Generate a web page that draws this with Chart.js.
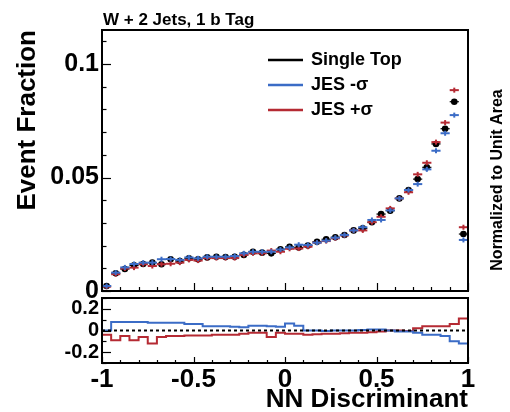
<!DOCTYPE html>
<html><head><meta charset="utf-8">
<script src="https://cdn.jsdelivr.net/npm/chart.js@4.4.1/dist/chart.umd.min.js"></script>
<style>
html,body{margin:0;padding:0;background:#fff;width:510px;height:412px;overflow:hidden}
#wrap{position:relative;width:510px;height:412px}
canvas{position:absolute;left:0;top:0}
</style></head><body>
<div id="wrap"><canvas id="main" width="510" height="412"></canvas><canvas id="ratio" width="510" height="412"></canvas></div>
<script>
// ---------------- data ----------------
const binWidth = 0.05;
const binCenters = [-0.975,-0.925,-0.875,-0.825,-0.775,-0.725,-0.675,-0.625,-0.575,-0.525,-0.475,-0.425,-0.375,-0.325,-0.275,-0.225,-0.175,-0.125,-0.075,-0.025,0.025,0.075,0.125,0.175,0.225,0.275,0.325,0.375,0.425,0.475,0.525,0.575,0.625,0.675,0.725,0.775,0.825,0.875,0.925,0.975];
const singleTop = [0.0022,0.0078,0.0097,0.0113,0.0119,0.0125,0.0118,0.0140,0.0132,0.0144,0.0140,0.0148,0.0151,0.0150,0.0151,0.0159,0.0173,0.0169,0.0166,0.0184,0.0195,0.0192,0.0200,0.0217,0.0228,0.0237,0.0247,0.0267,0.0276,0.0303,0.0339,0.0354,0.0408,0.0445,0.0493,0.0545,0.0648,0.0715,0.0834,0.0251];
const jesMinus = [0.0022,0.0081,0.0104,0.0119,0.0125,0.0125,0.0140,0.0141,0.0137,0.0148,0.0144,0.0151,0.0151,0.0151,0.0154,0.0166,0.0173,0.0173,0.0173,0.0183,0.0192,0.0204,0.0203,0.0213,0.0222,0.0235,0.0247,0.0267,0.0281,0.0313,0.0313,0.0355,0.0408,0.0445,0.0471,0.0536,0.0618,0.0695,0.0775,0.0225];
const jesPlus = [0.0019,0.0074,0.0099,0.0103,0.0118,0.0110,0.0118,0.0120,0.0125,0.0137,0.0134,0.0145,0.0145,0.0145,0.0145,0.0159,0.0166,0.0166,0.0178,0.0173,0.0186,0.0187,0.0195,0.0213,0.0220,0.0232,0.0245,0.0267,0.0267,0.0303,0.0327,0.0364,0.0408,0.0435,0.0514,0.0565,0.0656,0.0742,0.0885,0.0281];
const ratioMinus = [0.0,0.079,0.079,0.079,0.079,0.072,0.072,0.072,0.072,0.059,0.059,0.04,0.04,0.04,0.035,0.03,0.045,0.045,0.04,0.035,0.065,0.045,0.0,0.0,-0.005,0.0,0.0,0.0,0.005,0.01,0.01,0.0,-0.01,-0.01,-0.02,-0.04,-0.04,-0.05,-0.1,-0.12];
const ratioPlus = [-0.04,-0.09,-0.05,-0.09,-0.06,-0.12,-0.06,-0.05,-0.05,-0.045,-0.045,-0.045,-0.04,-0.04,-0.04,-0.03,-0.02,-0.02,-0.06,-0.02,-0.03,-0.03,-0.04,-0.035,-0.03,-0.03,-0.025,-0.02,-0.02,-0.015,-0.01,0.0,0.0,-0.005,0.02,0.04,0.04,0.04,0.06,0.11];
const mainYTicks = [0, 0.05, 0.1];
const mainYTickLabels = ['0', '0.05', '0.1'];
const ratioYTicks = [-0.2, 0, 0.2];
const ratioYTickLabels = ['-0.2', '0', '0.2'];
const xTicks = [-1, -0.5, 0, 0.5, 1];
const xTickLabels = ['-1', '-0.5', '0', '0.5', '1'];
const seriesNames = ['Single Top', 'JES -\u03C3', 'JES +\u03C3'];
const titleText = 'W + 2 Jets, 1 b Tag';
const yTitle = 'Event Fraction';
const rightTitle = 'Normalized to Unit Area';
const xTitle = 'NN Discriminant';

// ---------------- style ----------------
const FONT = "'Liberation Sans', Arial, Helvetica, sans-serif";
const BLACK = '#000000', BLUE = '#3b6cc6', RED = '#b52a33';
const W = 510, H = 412;
const MAIN = {left:102, right:468, top:30, bottom:291};
const RAT = {left:102, right:468, top:298, bottom:363};

function labelFor(vals, labels) {
  return function(v){ for (let i=0;i<vals.length;i++) if (Math.abs(vals[i]-v)<1e-9) return labels[i]; return ''; };
}

// horizontal bin-width bars, drawn right after each dataset
const hbarPlugin = {
  id:'hbar',
  afterDatasetDraw(chart, args) {
    const ds = chart.data.datasets[args.index];
    if (!ds.hbar) return;
    const ctx = chart.ctx, xs = chart.scales.x, ys = chart.scales.y;
    ctx.save();
    ctx.strokeStyle = ds.borderColor || BLACK;
    ctx.lineWidth = ds.hbarWidth;
    ds.data.forEach(p => {
      const y = ys.getPixelForValue(p.y);
      ctx.beginPath();
      ctx.moveTo(xs.getPixelForValue(p.x - binWidth/2), y);
      ctx.lineTo(xs.getPixelForValue(p.x + binWidth/2), y);
      ctx.stroke();
    });
    ctx.restore();
  }
};

function frameAndTicks(chart, cfg) {
  const ctx = chart.ctx, a = chart.chartArea, xs = chart.scales.x, ys = chart.scales.y;
  ctx.save();
  ctx.strokeStyle = BLACK;
  ctx.lineWidth = 1.2;
  for (let v = cfg.yMinorStart; v <= ys.max + 1e-9; v += cfg.yMinor) {
    const isMajor = Math.abs(v/cfg.yMajor - Math.round(v/cfg.yMajor)) < 1e-6;
    const y = Math.round(ys.getPixelForValue(v)) + 0.5;
    ctx.beginPath(); ctx.moveTo(a.left, y); ctx.lineTo(a.left + (isMajor?cfg.yMajLen:cfg.yMinLen), y); ctx.stroke();
  }
  for (let v = -1; v <= 1 + 1e-9; v += cfg.xMinor) {
    const isMajor = Math.abs(v/0.5 - Math.round(v/0.5)) < 1e-6;
    const x = Math.round(xs.getPixelForValue(v)) + 0.5;
    ctx.beginPath(); ctx.moveTo(x, a.bottom); ctx.lineTo(x, a.bottom - (isMajor?cfg.xMajLen:cfg.xMinLen)); ctx.stroke();
  }
  ctx.lineWidth = 2;
  ctx.strokeRect(a.left, a.top, a.right - a.left, a.bottom - a.top);
  ctx.restore();
}

const mainDecor = {
  id:'mainDecor',
  afterDraw(chart) {
    frameAndTicks(chart, {yMinorStart:0, yMinor:0.01, yMajor:0.05, yMajLen:9, yMinLen:4.5, xMinor:0.1, xMajLen:8, xMinLen:4});
    const ctx = chart.ctx;
    ctx.save();
    ctx.fillStyle = BLACK;
    ctx.font = "bold 17px " + FONT;
    ctx.textAlign = 'left'; ctx.textBaseline = 'alphabetic';
    ctx.fillText(titleText, 103, 25);
    const legColors = [BLACK, BLUE, RED];
    const legY = [60, 85, 110];
    ctx.font = "bold 18px " + FONT;
    ctx.textBaseline = 'middle';
    for (let i = 0; i < 3; i++) {
      ctx.strokeStyle = legColors[i]; ctx.lineWidth = 2.5;
      ctx.beginPath(); ctx.moveTo(268, legY[i]); ctx.lineTo(303, legY[i]); ctx.stroke();
      ctx.fillText(seriesNames[i], 311, legY[i]);
    }
    ctx.save();
    ctx.translate(35, 30); ctx.rotate(-Math.PI/2);
    ctx.font = "bold 26px " + FONT; ctx.textAlign = 'right'; ctx.textBaseline = 'alphabetic';
    ctx.fillText(yTitle, 0, 0);
    ctx.restore();
    ctx.save();
    ctx.translate(502, 180); ctx.rotate(-Math.PI/2);
    ctx.font = "bold 16px " + FONT; ctx.textAlign = 'center'; ctx.textBaseline = 'alphabetic';
    ctx.fillText(rightTitle, 0, 0);
    ctx.restore();
    ctx.restore();
  }
};

const ratioDecor = {
  id:'ratioDecor',
  afterDatasetsDraw(chart) {
    const ctx = chart.ctx, a = chart.chartArea, ys = chart.scales.y;
    const y0 = ys.getPixelForValue(0);
    ctx.save();
    ctx.strokeStyle = BLACK; ctx.lineWidth = 2; ctx.setLineDash([3,3]);
    ctx.beginPath(); ctx.moveTo(a.left, y0); ctx.lineTo(a.right, y0); ctx.stroke();
    ctx.restore();
  },
  afterDraw(chart) {
    frameAndTicks(chart, {yMinorStart:-0.3, yMinor:0.1, yMajor:0.2, yMajLen:9, yMinLen:4.5, xMinor:0.1, xMajLen:6, xMinLen:3});
    const ctx = chart.ctx;
    ctx.save();
    ctx.fillStyle = BLACK;
    ctx.font = "bold 26px " + FONT; ctx.textAlign = 'right'; ctx.textBaseline = 'alphabetic';
    ctx.fillText(xTitle, 468, 407);
    ctx.restore();
  }
};

// ---------------- main chart ----------------
const pts = arr => binCenters.map((x,i)=>({x:x, y:arr[i]}));
new Chart(document.getElementById('main'), {
  type:'scatter',
  data:{ datasets:[
    {label:seriesNames[1], data:pts(jesMinus), pointStyle:'line', rotation:90, pointRadius:2.5, pointBorderWidth:2, borderColor:BLUE, backgroundColor:BLUE, showLine:false, hbar:true, hbarWidth:2},
    {label:seriesNames[2], data:pts(jesPlus), pointStyle:'line', rotation:90, pointRadius:2.5, pointBorderWidth:2, borderColor:RED, backgroundColor:RED, showLine:false, hbar:true, hbarWidth:2},
    {label:seriesNames[0], data:pts(singleTop), pointStyle:'circle', pointRadius:3.3, pointBorderWidth:0, borderColor:BLACK, backgroundColor:BLACK, showLine:false, hbar:true, hbarWidth:1.2}
  ]},
  options:{
    responsive:false, animation:false, devicePixelRatio:1,
    layout:{padding:{top:MAIN.top, right:W-MAIN.right, left:0, bottom:0}},
    plugins:{legend:{display:false}, tooltip:{enabled:false}, title:{display:false}},
    scales:{
      x:{type:'linear', min:-1, max:1, grid:{display:false, drawTicks:false}, border:{display:false}, ticks:{display:false},
         afterFit(s){ s.height = H - MAIN.bottom; }},
      y:{type:'linear', min:0, max:0.115, grid:{display:false, drawTicks:false}, border:{display:false},
         afterBuildTicks(s){ s.ticks = mainYTicks.map(v=>({value:v})); },
         ticks:{callback:labelFor(mainYTicks, mainYTickLabels), color:BLACK, padding:3, font:{family:FONT, size:25, weight:'bold'}},
         afterFit(s){ s.width = MAIN.left; }}
    }
  },
  plugins:[hbarPlugin, mainDecor]
});

// ---------------- ratio chart ----------------
const stepPts = arr => { const d = binCenters.map((x,i)=>({x:x-binWidth/2, y:arr[i]})); d.push({x:binCenters[binCenters.length-1]+binWidth/2, y:arr[arr.length-1]}); return d; };
new Chart(document.getElementById('ratio'), {
  type:'line',
  data:{ datasets:[
    {label:seriesNames[1], data:stepPts(ratioMinus), stepped:true, borderColor:BLUE, borderWidth:2, pointRadius:0, fill:false},
    {label:seriesNames[2], data:stepPts(ratioPlus), stepped:true, borderColor:RED, borderWidth:2, pointRadius:0, fill:false}
  ]},
  options:{
    responsive:false, animation:false, devicePixelRatio:1,
    layout:{padding:{top:RAT.top, right:W-RAT.right, left:0, bottom:0}},
    plugins:{legend:{display:false}, tooltip:{enabled:false}, title:{display:false}},
    scales:{
      x:{type:'linear', min:-1, max:1, grid:{display:false, drawTicks:false}, border:{display:false},
         afterBuildTicks(s){ s.ticks = xTicks.map(v=>({value:v})); },
         ticks:{callback:labelFor(xTicks, xTickLabels), color:BLACK, padding:1, maxRotation:0, autoSkip:false, font:{family:FONT, size:26, weight:'bold'}},
         afterFit(s){ s.height = H - RAT.bottom; }},
      y:{type:'linear', min:-0.3, max:0.3, grid:{display:false, drawTicks:false}, border:{display:false},
         afterBuildTicks(s){ s.ticks = ratioYTicks.map(v=>({value:v})); },
         ticks:{callback:labelFor(ratioYTicks, ratioYTickLabels), color:BLACK, padding:3, font:{family:FONT, size:20, weight:'bold'}},
         afterFit(s){ s.width = RAT.left; }}
    }
  },
  plugins:[ratioDecor]
});
</script>
</body></html>
